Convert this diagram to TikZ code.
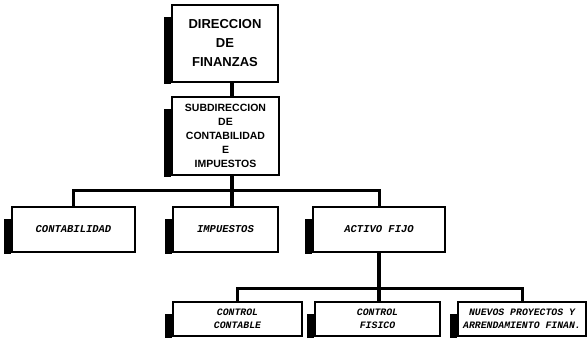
\documentclass[tikz,border=0pt]{standalone}
\usepackage{fontspec}
\setmainfont{Liberation Serif}
\newfontfamily\arialb{Liberation Sans}
\newfontfamily\maquina{Liberation Mono}

\tikzset{
  unidad/.style={draw, line width=1.4pt, fill=white, inner sep=0pt, align=center},
  jefe/.style={unidad, font=\arialb\bfseries\fontsize{13}{19}\selectfont},
  subjefe/.style={unidad, font=\arialb\bfseries\fontsize{10.5}{14}\selectfont},
  depto/.style={unidad, font=\maquina\bfseries\itshape\fontsize{10.5}{13}\selectfont},
  seccion/.style={unidad, font=\maquina\bfseries\itshape\fontsize{9.8}{12.5}\selectfont},
  linea/.style={line width=3pt},
  tronco/.style={line width=4pt}
}

% franja negra a la izquierda de cada caja
\newcommand\sombra[1]{\fill ([xshift=-7pt,yshift=-13pt]#1.north west) rectangle ([yshift=-1.5pt]#1.south west);}

\begin{document}
\begin{tikzpicture}[x=1pt,y=-1pt]
\useasboundingbox (0,0) rectangle (588,338);

\node[jefe, minimum width=106pt, minimum height=77pt] (dir) at (225,43.5) {DIRECCION\\DE\\FINANZAS};
\node[subjefe, minimum width=107pt, minimum height=78pt] (sub) at (225.5,136) {SUBDIRECCION\\DE\\CONTABILIDAD\\E\\IMPUESTOS};

\node[depto, minimum width=123pt, minimum height=45pt] (cont) at (73.5,229.5) {CONTABILIDAD};
\node[depto, minimum width=105pt, minimum height=45pt] (imp) at (225.5,229.5) {IMPUESTOS};
\node[depto, minimum width=132pt, minimum height=45pt] (act) at (379,229.5) {ACTIVO FIJO};

\node[seccion, minimum width=129pt, minimum height=34pt] (ctc) at (237.5,319) {CONTROL\\CONTABLE};
\node[seccion, minimum width=125pt, minimum height=34pt] (cfis) at (377.5,319) {CONTROL\\FISICO};
\node[seccion, minimum width=128pt, minimum height=34pt] (nue) at (522,319) {NUEVOS PROYECTOS Y\\ARRENDAMIENTO FINAN.};

\sombra{dir}
\sombra{sub}
\sombra{cont}
\sombra{imp}
\sombra{act}
\sombra{ctc}
\sombra{cfis}
\sombra{nue}

\coordinate (eje) at (232,0);
\coordinate (bus1) at (0,190);
\coordinate (bus2) at (0,288);

% conectores
\draw[tronco] (dir.south-|eje) -- (sub.north-|eje);
\draw[tronco] (sub.south-|eje) -- (eje|-bus1);
\draw[linea] (cont.north) |- (act.north|-bus1) -- (act.north);
\draw[tronco] (imp.north-|eje) -- (eje|-bus1);
\draw[tronco] (act.south) -- (act.south|-bus2);
\draw[linea] (ctc.north) |- (nue.north|-bus2) -- (nue.north);
\draw[tronco] (cfis.north-|act.south) -- (act.south|-bus2);
\end{tikzpicture}
\end{document}
